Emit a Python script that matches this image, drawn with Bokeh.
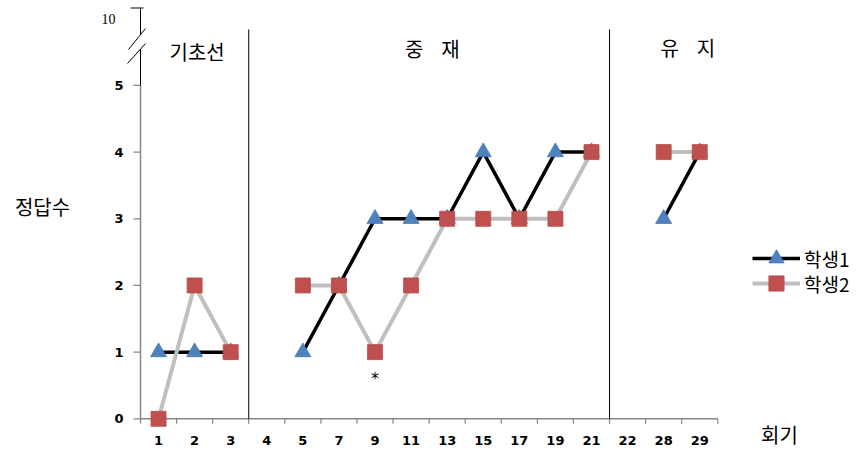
from bokeh.plotting import figure
from bokeh.models import FixedTicker, Range1d, Legend, LegendItem
from bokeh.core.properties import value
from bokeh.embed import file_html
from bokeh.resources import INLINE

nan = float("nan")

# ---------------- data ----------------
sessions = ["1", "2", "3", "4", "5", "7", "9", "11", "13", "15", "17", "19", "21", "22", "28", "29"]
student1 = [1, 1, 1, nan, 1, 2, 3, 3, 3, 4, 3, 4, 4, nan, 3, 4]
student2 = [0, 2, 1, nan, 2, 2, 1, 2, 3, 3, 3, 3, 4, nan, 4, 4]
series_names = ["학생1", "학생2"]
phase_names = ["기초선", "중\u00a0\u00a0\u00a0\u00a0재", "유\u00a0\u00a0\u00a0\u00a0지"]
phase_sizes = [3, 10, 3]
y_ticks = [0, 1, 2, 3, 4, 5]
y_break_label = "10"
y_title = "정답수"
x_title = "회기"
note_session = "9"
note_text = "*"
note_value = 0.6

# ---------------- layout ----------------
W, H = 868, 450
X0_PX, X_UNIT = 140.0, 36.08     # pixel column of x = 0, pixels per session
Y0_PX, Y_UNIT = 418.3, 66.67     # pixel row of y = 0, pixels per answer


def dx(px):
    return (px - X0_PX) / X_UNIT


def dy(py):
    return (Y0_PX - py) / Y_UNIT


n = len(sessions)
x = [i + 0.5 for i in range(n)]
xpos = dict(zip(sessions, x))

AX = "#868686"
NUMFONT = "DejaVu Sans"
KFONT = "Noto Sans CJK KR"

p = figure(width=W, height=H,
           x_range=Range1d(dx(0), dx(W)), y_range=Range1d(dy(H), dy(0)),
           output_backend="svg", toolbar_location=None,
           min_border_left=0, min_border_right=0,
           min_border_top=0, min_border_bottom=0)
p.outline_line_color = None
p.xgrid.visible = False
p.ygrid.visible = False
p.background_fill_color = "white"
p.border_fill_color = "white"

# x axis: tick labels from the axis, pulled up into the canvas
xa = p.xaxis[0]
xa.ticker = FixedTicker(ticks=x)
xa.major_label_overrides = {xi: s for xi, s in zip(x, sessions)}
xa.axis_line_color = None
xa.major_tick_line_color = None
xa.minor_tick_line_color = None
xa.major_tick_out = 0
xa.major_tick_in = 0
xa.minor_tick_out = 0
xa.minor_tick_in = 0
xa.major_label_standoff = -15
xa.major_label_text_font = NUMFONT
xa.major_label_text_font_style = "bold"
xa.major_label_text_font_size = "13px"
xa.major_label_text_color = "black"

# y axis: tick labels from the axis, placed left of the drawn axis line
ya = p.yaxis[0]
ya.ticker = FixedTicker(ticks=y_ticks)
ya.axis_line_color = None
ya.major_tick_line_color = None
ya.minor_tick_line_color = None
ya.major_tick_out = 0
ya.major_tick_in = 0
ya.minor_tick_out = 0
ya.minor_tick_in = 0
ya.major_label_standoff = -int(round(X0_PX - 17))
ya.major_label_text_font = NUMFONT
ya.major_label_text_font_style = "bold"
ya.major_label_text_font_size = "13px"
ya.major_label_text_color = "black"

# axis lines and ticks
bounds = list(range(n + 1))
p.segment(x0=0, y0=0, x1=n, y1=0, line_color=AX, line_width=1.5)
p.segment(x0=bounds, y0=[0] * len(bounds), x1=bounds, y1=[-5 / Y_UNIT] * len(bounds),
          line_color=AX, line_width=1.2)
p.segment(x0=0, y0=0, x1=0, y1=max(y_ticks), line_color=AX, line_width=1.5)
p.segment(x0=[-7 / X_UNIT] * len(y_ticks), y0=y_ticks, x1=[0] * len(y_ticks), y1=y_ticks,
          line_color=AX, line_width=1.2)

# axis break (5 .. 10)
bx0 = [dx(140), dx(140), dx(130), dx(145), dx(145)]
by0 = [dy(7.5), dy(48.6), dy(7.5), dy(28), dy(43)]
bx1 = [dx(140), dx(140), dx(143), dx(128), dx(127)]
by1 = [dy(34), dy(85), dy(7.5), dy(49), dy(63)]
p.segment(x0=bx0, y0=by0, x1=bx1, y1=by1, line_color="black", line_width=1)
p.text(x=[dx(108)], y=[dy(18)], text=[y_break_label], text_align="center",
       text_baseline="middle", text_font=value("Liberation Serif"),
       text_font_size="14px", text_color="black")

# axis titles
p.text(x=[dx(42)], y=[dy(206)], text=[y_title], text_align="center",
       text_baseline="middle", text_font=value(KFONT), text_font_size="20px",
       text_color="black")
p.text(x=[dx(779)], y=[dy(434)], text=[x_title], text_align="center",
       text_baseline="middle", text_font=value(KFONT), text_font_size="20px",
       text_color="black")

# phase dividers
cum = []
s = 0
for k in phase_sizes[:-1]:
    s += k
    cum.append(s)
p.segment(x0=cum, y0=[0] * len(cum), x1=cum, y1=[dy(29)] * len(cum),
          line_color="black", line_width=1)

# phase headers
starts = [sum(phase_sizes[:i]) for i in range(len(phase_sizes))]
hx_off = [0.07, 0.09, 0.67]
hx = [st + sz / 2 + o for st, sz, o in zip(starts, phase_sizes, hx_off)]
hy = [dy(51), dy(48), dy(47)]
p.text(x=hx, y=hy, text=phase_names, text_align="center", text_baseline="middle",
       text_font=value(KFONT), text_font_size="20px", text_color="black")

# series
l1 = p.line(x, student1, line_color="black", line_width=3.5, line_join="round")
m1 = p.scatter(x, student1, marker="triangle", size=16, fill_color="#4F81BD",
               line_color="#4677B4", line_width=0.8)
l2 = p.line(x, student2, line_color="#BFBFBF", line_width=4, line_join="round")
m2 = p.scatter(x, student2, marker="square", size=15, fill_color="#C0504D",
               line_color="#B84A47", line_width=0.8)

# note
p.text(x=[xpos[note_session]], y=[note_value], text=[note_text], text_align="center",
       text_baseline="middle", text_font=value(NUMFONT), text_font_size="16px",
       text_color="black")

# legend: one small legend per series (marker size in a legend is 0.4 * glyph box)
GLYPH_H = 38
entry_rows = [258.3, 283.3]
for name, rends, row in zip(series_names, [[l1, m1], [l2, m2]], entry_rows):
    lg = Legend(items=[LegendItem(label=name, renderers=rends)],
                location=(752, H - (row + GLYPH_H / 2)), orientation="vertical",
                glyph_width=48, glyph_height=GLYPH_H, label_height=20,
                spacing=0, padding=0, margin=0, label_standoff=4,
                border_line_color=None, background_fill_alpha=0,
                label_text_font=KFONT, label_text_font_size="19px",
                label_text_color="black")
    p.add_layout(lg)

open("out.html", "w").write(file_html(p, INLINE))
